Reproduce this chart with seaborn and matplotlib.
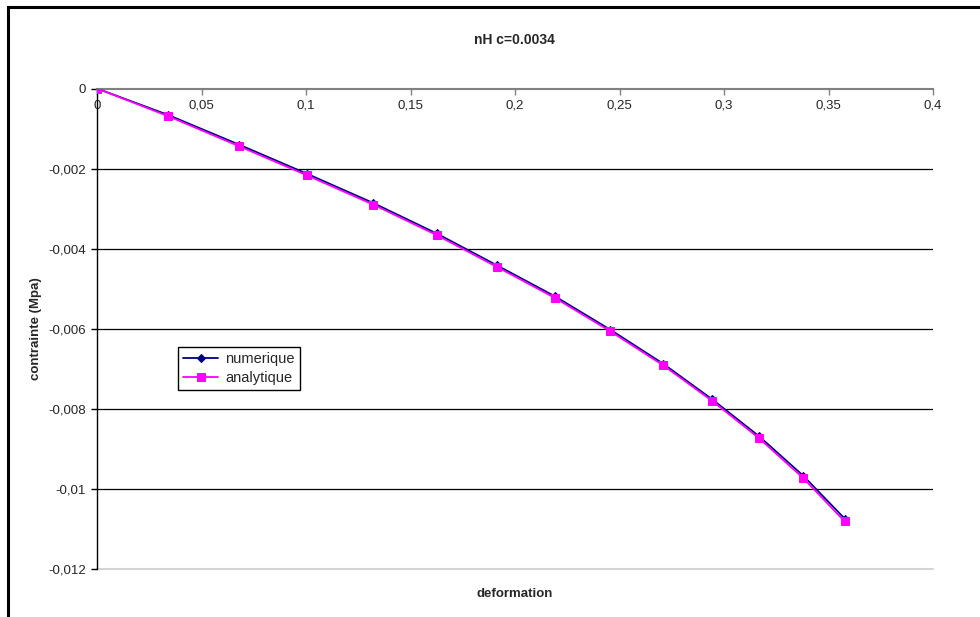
#import libraries
import numpy as np
import pandas as pd
import matplotlib.pyplot as plt
from matplotlib.patches import Rectangle
import seaborn as sns

sns.set_style('white')
plt.rcParams['font.family'] = ['Liberation Sans', 'DejaVu Sans']

#values
deformation = [0, 0.034, 0.0679, 0.1005, 0.1322, 0.1625, 0.1915, 0.2191,
               0.2455, 0.2708, 0.2943, 0.3169, 0.3379, 0.3577]
numerique = [0, -0.00066, -0.0014, -0.00213, -0.00286, -0.00362, -0.00442,
             -0.00519, -0.00602, -0.00687, -0.00776, -0.00869, -0.00967, -0.01074]
analytique = [0, -0.00069, -0.00144, -0.00217, -0.0029, -0.00366, -0.00446,
              -0.00523, -0.00606, -0.00691, -0.0078, -0.00874, -0.00973, -0.01081]

x_ticks = [0, 0.05, 0.1, 0.15, 0.2, 0.25, 0.3, 0.35, 0.4]
x_ticklabels = ['0', '0,05', '0,1', '0,15', '0,2', '0,25', '0,3', '0,35', '0,4']
y_ticks = [-0.012, -0.01, -0.008, -0.006, -0.004, -0.002, 0]
y_ticklabels = ['-0,012', '-0,01', '-0,008', '-0,006', '-0,004', '-0,002', '0']

df = pd.DataFrame({'deformation': deformation,
                   'numerique': numerique,
                   'analytique': analytique})

fig = plt.figure(figsize=(9.8, 6.17), dpi=100)
ax = fig.add_axes([97/980, 1-569/617, (933-97)/980, (569-88.5)/617])

#numerique first, analytique squares sit on top
sns.lineplot(data=df, x='deformation', y='numerique', sort=False, ax=ax,
             color='#000080', marker='D', markersize=4.5, markeredgecolor='#000080',
             linewidth=1.3, label='numerique', zorder=2)
sns.lineplot(data=df, x='deformation', y='analytique', sort=False, ax=ax,
             color='#FF00FF', marker='s', markersize=6, markeredgecolor='#FF00FF',
             linewidth=1.3, label='analytique', zorder=3)

ax.set_xlim(x_ticks[0], x_ticks[-1])
ax.set_ylim(y_ticks[0], y_ticks[-1])
ax.set_xticks(x_ticks)
ax.set_xticklabels(x_ticklabels)
ax.set_yticks(y_ticks)
ax.set_yticklabels(y_ticklabels)

#x axis crosses at y=0 (top of plot area), like excel
ax.spines['bottom'].set_position(('data', 0))
ax.spines['bottom'].set_color('#808080')
ax.spines['bottom'].set_linewidth(1.5)
ax.spines['bottom'].set_zorder(1)
ax.spines['top'].set_visible(False)
ax.spines['right'].set_visible(False)
ax.spines['left'].set_color('black')
ax.spines['left'].set_linewidth(1)
ax.tick_params(axis='x', direction='out', length=4, width=1, color='#808080',
               labelsize=9.5, pad=4, bottom=True)
ax.tick_params(axis='y', direction='out', length=4, width=1, color='black',
               labelsize=9.5, pad=4, left=True)

ax.grid(True, axis='y', color='black', linewidth=0.9)
ax.grid(False, axis='x')
gl = ax.get_ygridlines()
gl[0].set_color('#d4d4d4')
gl[0].set_linewidth(1.5)
gl[0].set_clip_on(False)
gl[-1].set_visible(False)
ax.set_axisbelow(True)

ax.set_xlabel('deformation', fontsize=9.5, fontweight='bold')
ax.xaxis.set_label_coords(0.5, -0.04)
ax.set_ylabel('contrainte (Mpa)', fontsize=9.5, fontweight='bold')
ax.yaxis.set_label_coords(-0.066, 0.5)
fig.text(0.525, 1-40/617, 'nH c=0.0034', ha='center', va='center',
         fontsize=10, fontweight='bold')

leg = ax.legend(loc='upper left', bbox_to_anchor=(0.097, 0.462), fontsize=10.5,
                frameon=True, fancybox=False, framealpha=1, edgecolor='black',
                handlelength=2.4, borderpad=0.35, labelspacing=0.35,
                handletextpad=0.5, borderaxespad=0)
leg.get_frame().set_linewidth(1)

#chart border (top and left only visible in the crop)
fig.patches.append(Rectangle((7.5/980, -0.5), 2, 0.5 + 1 - 7/617, fill=False,
                             edgecolor='black', linewidth=2.2,
                             transform=fig.transFigure, figure=fig))

fig.savefig('out.png', dpi=100)
